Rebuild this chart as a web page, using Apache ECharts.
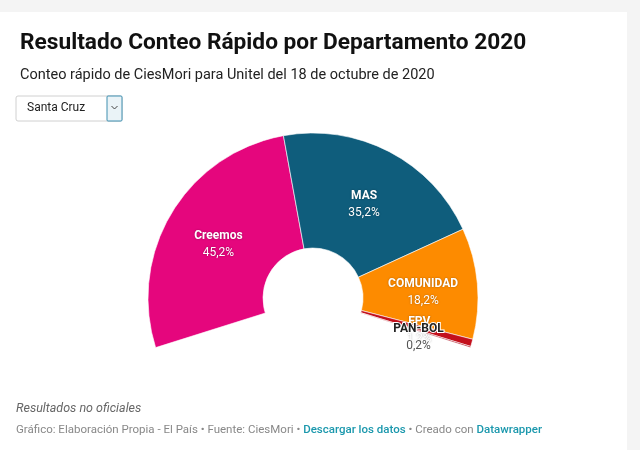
<!DOCTYPE html>
<html>
<head>
<meta charset="utf-8">
<script src="https://cdn.jsdelivr.net/npm/echarts@6/dist/echarts.min.js"></script>
<style>
  html, body { margin: 0; padding: 0; background: #f4f4f4; }
  #main { width: 640px; height: 450px; }
</style>
</head>
<body>
<div id="main"></div>
<script>
var chart = echarts.init(document.getElementById("main"));

// datos del conteo rápido (Santa Cruz)
var partidos = ["Creemos", "MAS", "COMUNIDAD", "FPV", "PAN-BOL"];
var votos = [45.2, 35.2, 18.2, 1.2, 0.2];
var colores = ["#e5067d", "#0f5d7c", "#fd8b00", "#c3101c", "#a8000f"];

function pct(v) {
    return String(v).replace(".", ",") + "%";
}

var datos = [];
for (var i = 0; i < partidos.length; i++) {
    var item = { name: partidos[i], value: votos[i], itemStyle: { color: colores[i] } };
    if (partidos[i] === "PAN-BOL") {
        item.label = {
            rich: {
                n: { color: "#222", fontWeight: "bold", fontSize: 12, textBorderColor: "#fff", textBorderWidth: 2, textShadowBlur: 0, lineHeight: 17 },
                v: { color: "#555", fontSize: 12, textBorderColor: "#fff", textBorderWidth: 2, textShadowBlur: 0, lineHeight: 17 }
            }
        };
    }
    datos.push(item);
}

var option = {
    backgroundColor: "#f4f4f4",
    textStyle: { fontFamily: "Roboto" },
    title: {
        text: "Resultado Conteo Rápido por Departamento 2020",
        subtext: "Conteo rápido de CiesMori para Unitel del 18 de octubre de 2020",
        left: 15,
        top: 27,
        itemGap: 13,
        textStyle: { color: "#111", fontSize: 22.7, fontWeight: "bold", fontFamily: "Roboto" },
        subtextStyle: { color: "#222", fontSize: 14.5, fontFamily: "Roboto" }
    },
    graphic: [
        { type: "rect", z: -10, shape: { x: 0, y: 12, width: 627, height: 438 }, style: { fill: "#fff" } },
        // selector
        { type: "rect", shape: { x: 16, y: 96, width: 106, height: 25, r: 2 }, style: { fill: "#fff", stroke: "#d0d0d0", lineWidth: 1 } },
        { type: "text", left: 27, top: 102, style: { text: "Santa Cruz", fill: "#222", font: "12px Roboto" } },
        { type: "rect", shape: { x: 107, y: 96, width: 15, height: 25, r: 1 }, style: { fill: "#eaf3f7", stroke: "#3f8fb0", lineWidth: 1 } },
        { type: "polyline", shape: { points: [[111.5, 106], [114.5, 109], [117.5, 106]] }, style: { stroke: "#444", lineWidth: 1, fill: null } },
        // pie de página
        { type: "text", left: 16, top: 402, style: { text: "Resultados no oficiales", fill: "#666", font: "italic 12.5px Roboto" } },
        {
            type: "text", left: 16, top: 424,
            style: {
                text: "{g|Gráfico: Elaboración Propia - El País • Fuente: CiesMori • }{l|Descargar los datos}{g| • Creado con }{l|Datawrapper}",
                rich: {
                    g: { fill: "#888", font: "11.5px Roboto" },
                    l: { fill: "#1b98ad", font: "500 11.5px Roboto" }
                }
            }
        }
    ],
    series: [{
        type: "pie",
        center: [313, 298],
        radius: [50, 165],
        startAngle: 197.5,
        endAngle: -17.5,
        clockwise: true,
        silent: true,
        avoidLabelOverlap: false,
        labelLayout: function (p) {
            var dy = 4;
            if (partidos[p.dataIndex] === "PAN-BOL") dy = 7;
            if (partidos[p.dataIndex] === "FPV") dy = 2;
            return { hideOverlap: false, dy: dy };
        },
        itemStyle: { borderColor: "#fff", borderWidth: 0.6 },
        label: {
            show: true,
            position: "inside",
            formatter: function (p) { return "{n|" + p.name + "}\n{v|" + pct(p.value) + "}"; },
            rich: {
                n: { color: "#fff", fontWeight: "bold", fontSize: 12, lineHeight: 17, textShadowColor: "rgba(0,0,0,0.35)", textShadowBlur: 2 },
                v: { color: "#fff", fontSize: 12, lineHeight: 17, textShadowColor: "rgba(0,0,0,0.35)", textShadowBlur: 2 }
            }
        },
        labelLine: { show: false },
        data: datos
    }]
};

chart.setOption(option);
window.addEventListener("resize", function () {
    chart.resize();
});
</script>
</body>
</html>
